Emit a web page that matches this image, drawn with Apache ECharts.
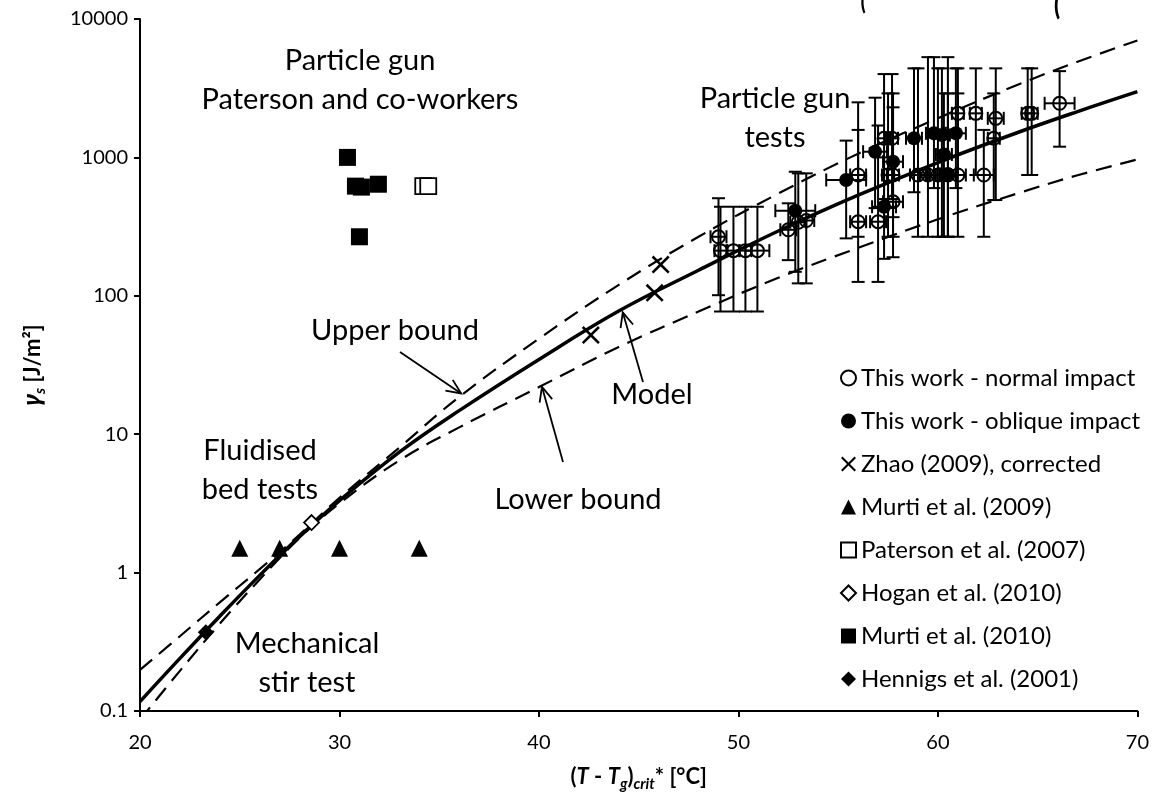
<!DOCTYPE html>
<html>
<head>
<meta charset="utf-8">
<script src="https://cdn.jsdelivr.net/npm/echarts@6/dist/echarts.min.js"></script>
<style>
  html, body { margin: 0; padding: 0; background: #fff; }
  #chart { width: 1152px; height: 799px; }
</style>
</head>
<body>
<div id="chart"></div>
<script>
// model curve and bounds
const curveX = [20, 22, 24, 26, 28, 30, 33, 36, 40, 44, 48, 52, 56, 60, 64, 67, 70];
const modelY = [0.117, 0.24, 0.484, 0.955, 1.82, 3.31, 7.41, 14.8, 34.7, 77.6, 153, 294, 533, 918, 1513, 2143, 2985];
const upperY = [0.198, 0.347, 0.61, 1.06, 1.88, 3.47, 8.0, 18.6, 49, 120, 267, 548, 1064, 1919, 3350, 4910, 7000];
const lowerY = [0.0865, 0.195, 0.427, 0.891, 1.78, 3.16, 6.46, 11.2, 21.9, 42.7, 76.9, 135, 222, 357, 550, 743, 966];

// particle gun tests: [x, y, xErr, yLow, yHigh]
const normalImpact = [
  [49.0, 267, 0.4, 101, 507],
  [49.1, 212, 0.3, 77, 440],
  [49.75, 212, 0.3, 77, 440],
  [50.35, 212, 0.3, 77, 440],
  [50.95, 212, 0.6, 77, 440],
  [52.5, 300, 0.4, 181, 466],
  [53.0, 340, 0.4, 123, 767],
  [53.4, 350, 0.4, 123, 767],
  [56.0, 343, 0.4, 126, 1580],
  [57.0, 343, 0.4, 126, 1700],
  [57.75, 478, 0.5, 190, 900],
  [56.0, 746, 0.4, 267, 2500],
  [57.5, 746, 0.3, 267, 2900],
  [57.75, 746, 0.3, 267, 2900],
  [59.0, 746, 0.4, 267, 4400],
  [59.5, 746, 0.4, 267, 5300],
  [60.0, 746, 0.4, 267, 4400],
  [60.5, 746, 0.4, 267, 5300],
  [61.0, 746, 0.4, 267, 2900],
  [62.3, 746, 0.5, 267, 1580],
  [57.3, 1374, 0.3, 500, 4000],
  [57.7, 1374, 0.3, 500, 4000],
  [62.8, 1374, 0.3, 492, 2900],
  [61.0, 2081, 0.3, 746, 4400],
  [61.9, 2081, 0.3, 746, 4400],
  [62.9, 1915, 0.4, 492, 4400],
  [64.5, 2081, 0.3, 746, 4400],
  [64.7, 2081, 0.3, 746, 4400],
  [66.1, 2460, 0.75, 1195, 4200]
];
const obliqueImpact = [
  [52.85, 412, 1.0, 149, 788],
  [55.4, 687, 1.0, 260, 1322],
  [56.85, 1099, 0.6, 430, 2700],
  [57.3, 440, 0.6, 185, 1000],
  [57.75, 931, 0.5, 370, 2300],
  [58.8, 1374, 0.4, 560, 4400],
  [59.8, 1493, 0.4, 600, 5300],
  [60.2, 1450, 0.4, 267, 4400],
  [60.9, 1493, 0.5, 600, 4400],
  [60.3, 1050, 0.4, 267, 2900],
  [60.5, 760, 0.4, 267, 2900]
];

// literature points: [x, y]
const zhao = [[42.6, 52], [45.8, 105], [46.1, 168]];
const murti2009 = [[25, 1.5], [27, 1.5], [30, 1.5], [34, 1.5]];
const paterson = [[34.2, 620], [34.45, 620]];
const hogan = [[28.6, 2.3]];
const murti2010 = [[30.4, 1000], [30.8, 620], [31.1, 610], [31.95, 640], [31.0, 267]];
const hennigs = [[23.3, 0.37]];

const font = 'Lato, "Noto Sans", sans-serif';
const crossIcon = 'path://M1,0L5,4L9,0L10,1L6,5L10,9L9,10L5,6L1,10L0,9L4,5L0,1Z';

const pairs = (xs, ys) => xs.map((x, i) => [x, ys[i]]);

function errorBars(params, api) {
  const x = api.value(0), y = api.value(1), xe = api.value(2);
  const lo = api.value(3), hi = api.value(4);
  const l = api.coord([x - xe, y]), r = api.coord([x + xe, y]);
  const b = api.coord([x, lo]), t = api.coord([x, hi]);
  const cap = 6.5;
  const st = { stroke: '#000', lineWidth: 2 };
  const ln = (x1, y1, x2, y2) => ({ type: 'line', shape: { x1, y1, x2, y2 }, style: st });
  return {
    type: 'group',
    children: [
      ln(b[0], b[1], t[0], t[1]),
      ln(b[0] - cap, b[1], b[0] + cap, b[1]),
      ln(t[0] - cap, t[1], t[0] + cap, t[1]),
      ln(l[0], l[1], r[0], r[1]),
      ln(l[0], l[1] - cap, l[0], l[1] + cap),
      ln(r[0], r[1] - cap, r[0], r[1] + cap)
    ]
  };
}

const chart = echarts.init(document.getElementById('chart'));

const openStyle = { color: '#fff', borderColor: '#000', borderWidth: 1.8, opacity: 1 };
const ringStyle = { color: 'rgba(255,255,255,0)', borderColor: '#000', borderWidth: 2, opacity: 1 };
const fillStyle = { color: '#000', borderColor: '#000', borderWidth: 0, opacity: 1 };

const option = {
  animation: false,
  backgroundColor: '#fff',
  grid: { left: 140, right: 12, top: 19, bottom: 88 },
  legend: {
    orient: 'vertical',
    left: 840,
    top: 364,
    padding: 0,
    itemWidth: 15,
    itemHeight: 15,
    itemGap: 15,
    selectedMode: false,
    textStyle: { fontFamily: font, fontSize: 24, color: '#000', lineHeight: 28 },
    data: [
      'This work - normal impact',
      'This work - oblique impact',
      'Zhao (2009), corrected',
      'Murti et al. (2009)',
      'Paterson et al. (2007)',
      'Hogan et al. (2010)',
      'Murti et al. (2010)',
      'Hennigs et al. (2001)'
    ]
  },
  xAxis: {
    type: 'value',
    min: 20,
    max: 70,
    interval: 10,
    splitLine: { show: false },
    axisLine: { lineStyle: { color: '#000', width: 2 } },
    axisTick: { length: 6, lineStyle: { color: '#000', width: 2 } },
    axisLabel: { color: '#000', fontFamily: font, fontSize: 20, margin: 22 },
    name: '{b|(}{bi|T}{b| - }{bi|T}{sub|g}{b|)}{sub|crit}{b|* [°C]}',
    nameLocation: 'middle',
    nameGap: 51,
    nameTextStyle: {
      rich: {
        b: { fontFamily: font, fontSize: 22, fontWeight: 'bold', color: '#000' },
        bi: { fontFamily: font, fontSize: 22, fontWeight: 'bold', fontStyle: 'italic', color: '#000' },
        sub: { fontFamily: font, fontSize: 15, fontWeight: 'bold', fontStyle: 'italic', color: '#000', padding: [15, 0, 0, 0] }
      }
    }
  },
  yAxis: {
    type: 'log',
    logBase: 10,
    min: 0.1,
    max: 10000,
    splitLine: { show: false },
    axisLine: { lineStyle: { color: '#000', width: 2 } },
    axisTick: { length: 6, lineStyle: { color: '#000', width: 2 } },
    axisLabel: { color: '#000', fontFamily: font, fontSize: 20, margin: 12, formatter: v => String(v) },
    name: '{bi|γ}{sub|s}{b| [J/m²]}',
    nameLocation: 'middle',
    nameRotate: 90,
    nameGap: 92,
    nameTextStyle: {
      rich: {
        b: { fontFamily: font, fontSize: 22, fontWeight: 'bold', color: '#000' },
        bi: { fontFamily: '"Noto Sans", sans-serif', fontSize: 23, fontWeight: 'bold', fontStyle: 'italic', color: '#000' },
        sub: { fontFamily: font, fontSize: 15, fontWeight: 'bold', fontStyle: 'italic', color: '#000', padding: [15, 0, 0, 0] }
      }
    }
  },
  series: [
    {
      name: 'Model', type: 'line', data: pairs(curveX, modelY), smooth: 0.4, symbol: 'none',
      lineStyle: { color: '#000', width: 3.5 }, z: 2, silent: true
    },
    {
      name: 'Upper bound', type: 'line', data: pairs(curveX, upperY), smooth: 0.4, symbol: 'none',
      lineStyle: { color: '#000', width: 2.2, type: [16, 9] }, z: 2, silent: true
    },
    {
      name: 'Lower bound', type: 'line', data: pairs(curveX, lowerY), smooth: 0.4, symbol: 'none',
      lineStyle: { color: '#000', width: 2.2, type: [16, 9] }, z: 2, silent: true
    },
    { name: 'errN', type: 'custom', renderItem: errorBars, data: normalImpact, encode: { x: 0, y: 1 }, z: 4, silent: true },
    { name: 'errO', type: 'custom', renderItem: errorBars, data: obliqueImpact, encode: { x: 0, y: 1 }, z: 4, silent: true },
    {
      name: 'This work - normal impact', type: 'scatter', symbol: 'circle', symbolSize: 13,
      data: normalImpact.map(d => [d[0], d[1]]), itemStyle: ringStyle, z: 5
    },
    {
      name: 'This work - oblique impact', type: 'scatter', symbol: 'circle', symbolSize: 14,
      data: obliqueImpact.map(d => [d[0], d[1]]), itemStyle: fillStyle, z: 6
    },
    { name: 'Zhao (2009), corrected', type: 'scatter', symbol: crossIcon, symbolSize: 18, data: zhao, itemStyle: fillStyle, z: 5 },
    { name: 'Murti et al. (2009)', type: 'scatter', symbol: 'triangle', symbolSize: 17, data: murti2009, itemStyle: fillStyle, z: 5 },
    { name: 'Paterson et al. (2007)', type: 'scatter', symbol: 'rect', symbolSize: 16, data: paterson, itemStyle: openStyle, z: 5 },
    { name: 'Hogan et al. (2010)', type: 'scatter', symbol: 'diamond', symbolSize: 15, data: hogan, itemStyle: openStyle, z: 5 },
    { name: 'Murti et al. (2010)', type: 'scatter', symbol: 'rect', symbolSize: 17, data: murti2010, itemStyle: fillStyle, z: 5 },
    { name: 'Hennigs et al. (2001)', type: 'scatter', symbol: 'diamond', symbolSize: 16, data: hennigs, itemStyle: fillStyle, z: 5 }
  ]
};

chart.setOption(option);

// annotations and arrows
const txt = (x, y, text) => ({
  type: 'text', x, y, z: 10,
  style: {
    text, font: '29px ' + font, fill: '#000',
    textAlign: 'center', align: 'center', textVerticalAlign: 'middle', verticalAlign: 'middle',
    lineHeight: 39
  }
});

// bottoms of a text line cut off by the top edge
const cutText = (x, y, text, size) => ({
  type: 'text', x, y, z: 10,
  style: {
    text, font: 'italic ' + size + 'px ' + font, fill: '#000',
    textAlign: 'center', align: 'center', textVerticalAlign: 'bottom', verticalAlign: 'bottom'
  }
});

function arrow(tail, tipData) {
  const tip = chart.convertToPixel({ gridIndex: 0 }, tipData);
  const ang = Math.atan2(tip[1] - tail[1], tip[0] - tail[0]);
  const len = 16, spread = 0.42;
  const h1 = [tip[0] - len * Math.cos(ang - spread), tip[1] - len * Math.sin(ang - spread)];
  const h2 = [tip[0] - len * Math.cos(ang + spread), tip[1] - len * Math.sin(ang + spread)];
  const st = { stroke: '#000', lineWidth: 1.8, fill: null };
  return [
    { type: 'line', z: 10, shape: { x1: tail[0], y1: tail[1], x2: tip[0], y2: tip[1] }, style: st },
    { type: 'polyline', z: 10, shape: { points: [h1, tip, h2] }, style: st }
  ];
}

chart.setOption({
  graphic: [
    txt(360, 80, 'Particle gun\nPaterson and co-workers'),
    txt(775, 118, 'Particle gun\ntests'),
    txt(395, 331, 'Upper bound'),
    txt(652, 395, 'Model'),
    txt(578, 500, 'Lower bound'),
    txt(260, 470, 'Fluidised\nbed tests'),
    txt(307, 663, 'Mechanical\nstir test'),
    cutText(864, 14, '(', 30),
    cutText(1058, 20, '(', 36),
    ...arrow([400, 352], [36.1, 19.7]),
    ...arrow([643, 382], [44.2, 76]),
    ...arrow([563, 462], [40.15, 22])
  ]
});
</script>
</body>
</html>
